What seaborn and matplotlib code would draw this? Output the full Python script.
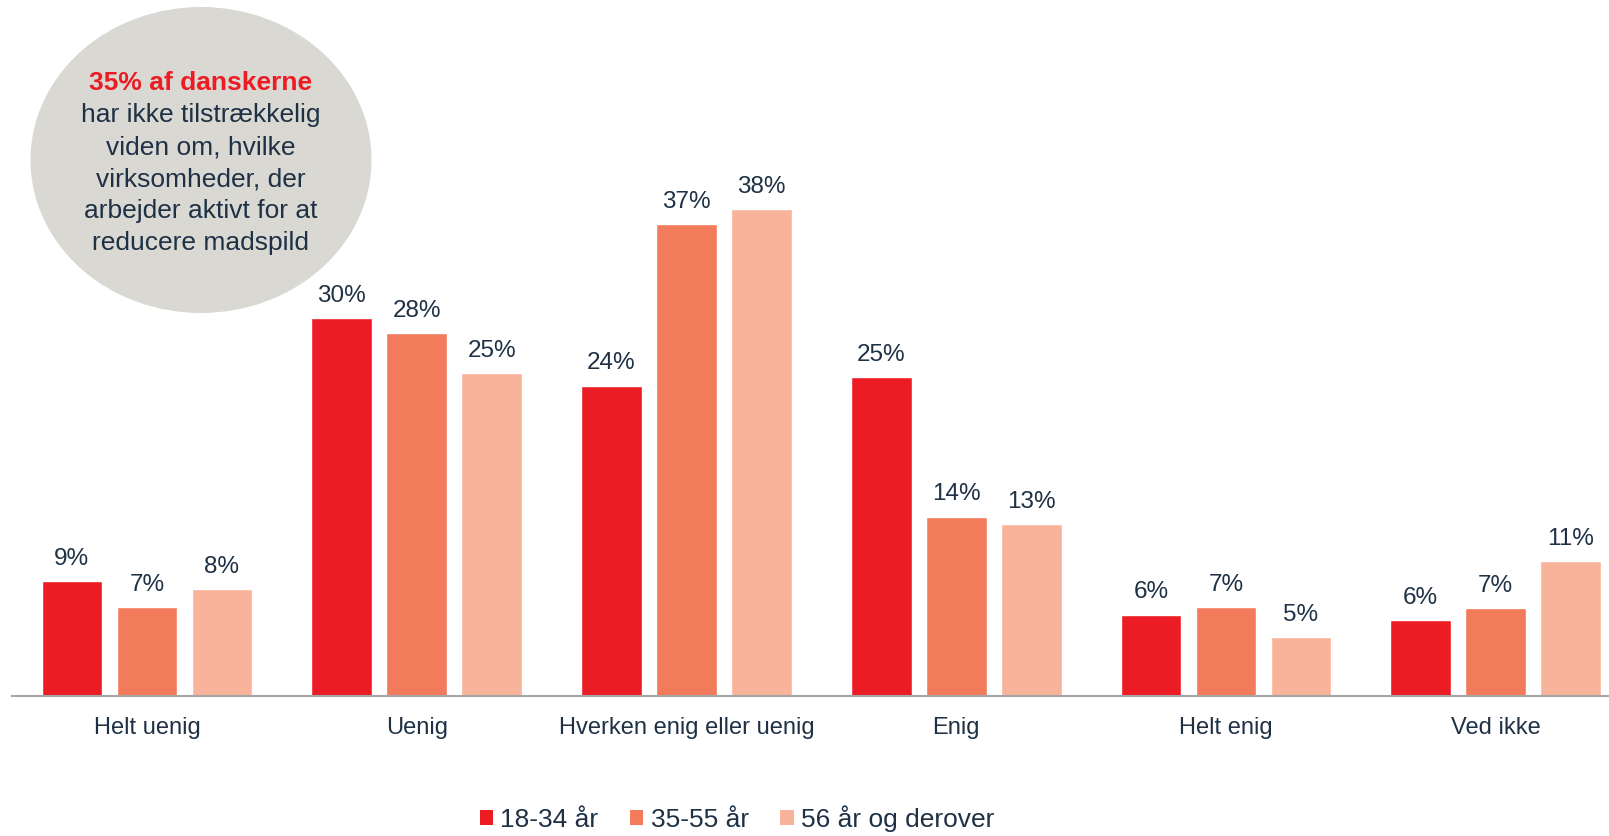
import matplotlib
matplotlib.use("Agg")
import matplotlib.pyplot as plt
from matplotlib.patches import Ellipse, Patch
import seaborn as sns
import pandas as pd

categories = ["Helt uenig", "Uenig", "Hverken enig eller uenig", "Enig", "Helt enig", "Ved ikke"]
series_names = ["18-34 år", "35-55 år", "56 år og derover"]
vals_18_34 = [9.0, 29.7, 24.4, 25.1, 6.4, 6.0]
vals_35_55 = [7.0, 28.5, 37.1, 14.1, 7.0, 6.9]
vals_56 = [8.4, 25.4, 38.3, 13.5, 4.6, 10.6]
labels_18_34 = ["9%", "30%", "24%", "25%", "6%", "6%"]
labels_35_55 = ["7%", "28%", "37%", "14%", "7%", "7%"]
labels_56 = ["8%", "25%", "38%", "13%", "5%", "11%"]
colors = ["#EC1C24", "#F27B5C", "#F9B39A"]
bubble_title = "35% af danskerne"
bubble_lines = ["har ikke tilstrækkelig", "viden om, hvilke", "virksomheder, der",
                "arbejder aktivt for at", "reducere madspild"]

TEXT = "#1E3145"

sns.set_theme(style="white")
plt.rcParams["font.family"] = ["Liberation Sans", "DejaVu Sans"]

rows = []
for name, vals in zip(series_names, [vals_18_34, vals_35_55, vals_56]):
    for c, v in zip(categories, vals):
        rows.append({"cat": c, "age": name, "val": v})
df = pd.DataFrame(rows)

W, H = 1609, 836
fig = plt.figure(figsize=(W / 100, H / 100), dpi=100)
ax = fig.add_axes([12 / W, 140 / H, 1597 / W, 696 / H])
ax.patch.set_alpha(0)

sns.barplot(data=df, x="cat", y="val", hue="age", order=categories,
            hue_order=series_names, palette=colors, width=0.834, gap=0.19,
            saturation=1, legend=False, ax=ax, errorbar=None)

for cont, labs in zip(ax.containers, [labels_18_34, labels_35_55, labels_56]):
    ax.bar_label(cont, labels=labs, padding=8, fontsize=17.5, color=TEXT)

ax.set_xlim(-0.5, 5.42)
ax.set_ylim(0, 54.7)
ax.set_xlabel("")
ax.set_ylabel("")
ax.set_yticks([])
ax.tick_params(axis="x", length=0, pad=15, labelsize=17, labelcolor=TEXT)
for s in ["top", "left", "right"]:
    ax.spines[s].set_visible(False)
ax.spines["bottom"].set_color("#A6A6A6")
ax.spines["bottom"].set_linewidth(1.5)

# Bubble
ell = Ellipse((201 / W, 1 - 160 / H), 341 / W, 306 / H, transform=fig.transFigure,
              facecolor="#D9D8D3", edgecolor="none", zorder=5, clip_on=False)
ax.add_patch(ell)
ys = [83, 115, 147, 179, 211, 243]
fig.text(201 / W, 1 - ys[0] / H, bubble_title, ha="center", va="center",
         fontsize=19, fontweight="bold", color="#EC1C24", zorder=6)
for y, line in zip(ys[1:], bubble_lines):
    fig.text(201 / W, 1 - y / H, line, ha="center", va="center",
             fontsize=19, color=TEXT, zorder=6)

handles = [Patch(facecolor=c, edgecolor="none") for c in colors]
fig.legend(handles, series_names, loc="center", bbox_to_anchor=(737 / W, 1 - 819 / H),
           ncol=3, frameon=False, fontsize=19, labelcolor=TEXT,
           handlelength=0.5, handleheight=0.5, handletextpad=0.28,
           columnspacing=1.2, borderaxespad=0)

fig.savefig("out.png", dpi=100)
